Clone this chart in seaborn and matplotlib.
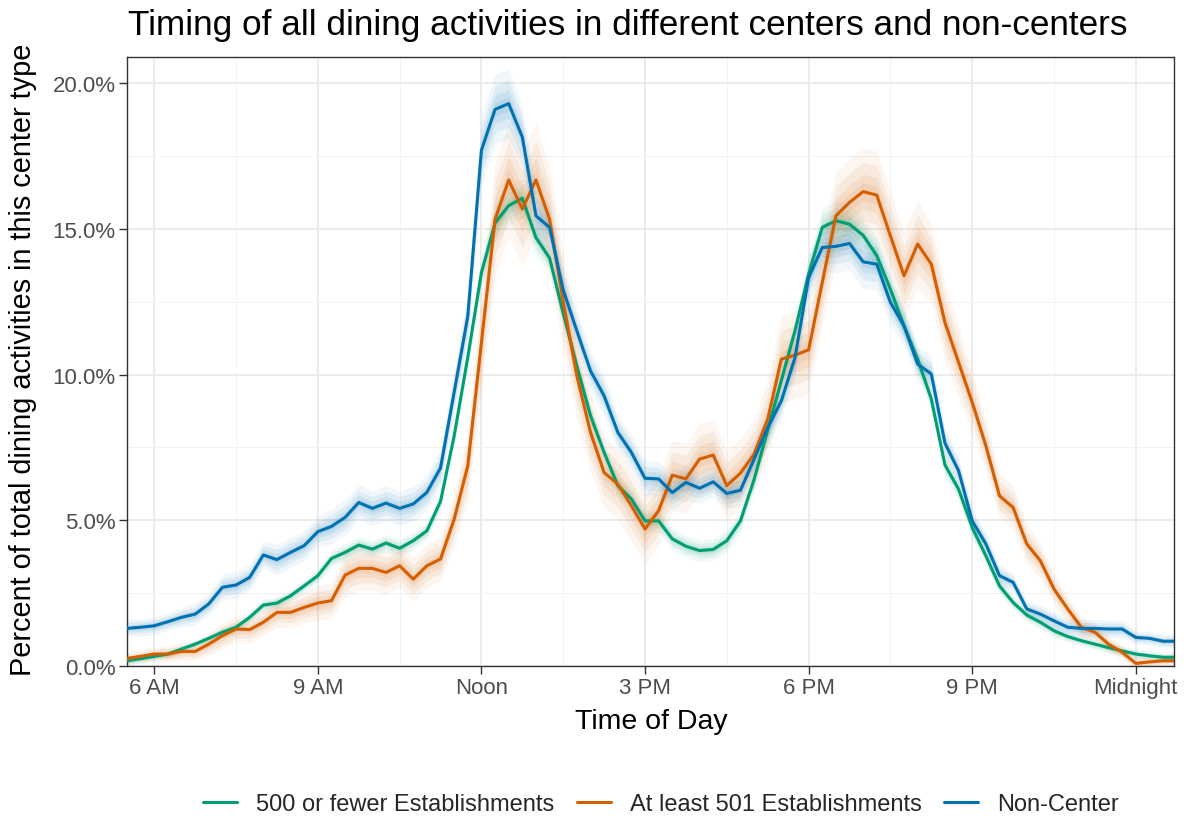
import numpy as np
import pandas as pd
import matplotlib
matplotlib.use("Agg")
import matplotlib.pyplot as plt
import seaborn as sns
from matplotlib.lines import Line2D
from matplotlib.ticker import FixedLocator, FuncFormatter

# Time of day in hours, 15-minute steps from 5:30 AM to 12:45 AM
times = np.arange(5.5, 24.76, 0.25)

groups = ["500 or fewer Establishments", "At least 501 Establishments", "Non-Center"]
colors = ["#009E73", "#D55E00", "#0072B2"]

# Percent of all dining activities in each 15-minute slot
small_center = [
    0.18, 0.25, 0.33, 0.41, 0.58, 0.75, 0.95, 1.16, 1.33, 1.67, 2.09, 2.16, 2.41, 2.75,
    3.10, 3.69, 3.90, 4.15, 4.01, 4.22, 4.04, 4.30, 4.64, 5.65, 7.90, 10.60, 13.50, 15.20,
    15.80, 16.05, 14.70, 14.00, 12.10, 10.30, 8.59, 7.33, 6.19, 5.73, 4.98, 4.98, 4.36, 4.11,
    3.96, 4.00, 4.30, 4.98, 6.40, 8.10, 9.80, 11.50, 13.45, 15.05, 15.28, 15.16, 14.78, 14.08,
    12.93, 11.67, 10.53, 9.16, 6.90, 6.07, 4.75, 3.78, 2.75, 2.18, 1.75, 1.50, 1.21, 1.01,
    0.87, 0.75, 0.63, 0.52, 0.41, 0.35, 0.30, 0.30,
]
large_center = [
    0.26, 0.33, 0.41, 0.41, 0.50, 0.50, 0.75, 1.04, 1.27, 1.25, 1.50, 1.84, 1.84, 2.01,
    2.16, 2.24, 3.12, 3.35, 3.35, 3.21, 3.44, 2.98, 3.44, 3.67, 5.04, 6.87, 11.10, 15.33,
    16.68, 15.68, 16.68, 15.33, 12.50, 9.96, 8.02, 6.64, 6.24, 5.50, 4.70, 5.33, 6.55, 6.42,
    7.10, 7.24, 6.19, 6.62, 7.27, 8.47, 10.53, 10.67, 10.85, 13.16, 15.45, 15.91, 16.28, 16.16,
    14.76, 13.39, 14.48, 13.79, 11.79, 10.42, 9.05, 7.56, 5.84, 5.44, 4.19, 3.61, 2.64, 1.96,
    1.33, 1.16, 0.75, 0.47, 0.09, 0.14, 0.18, 0.18,
]
non_center = [
    1.29, 1.33, 1.38, 1.52, 1.67, 1.78, 2.13, 2.70, 2.78, 3.04, 3.81, 3.65, 3.90, 4.13,
    4.61, 4.79, 5.10, 5.61, 5.41, 5.59, 5.41, 5.56, 5.96, 6.80, 9.40, 12.00, 17.70, 19.10,
    19.30, 18.15, 15.45, 15.05, 12.90, 11.50, 10.13, 9.27, 8.02, 7.33, 6.44, 6.42, 5.95, 6.30,
    6.10, 6.32, 5.92, 6.03, 7.10, 8.18, 9.10, 10.58, 13.33, 14.36, 14.40, 14.50, 13.87, 13.79,
    12.48, 11.67, 10.36, 10.02, 7.65, 6.70, 4.98, 4.19, 3.10, 2.87, 1.96, 1.78, 1.55, 1.33,
    1.29, 1.29, 1.27, 1.27, 0.98, 0.95, 0.85, 0.85,
]

# Half-width of the spread across bootstrap resamples, in percentage points
small_spread = [
    0.10, 0.10, 0.10, 0.10, 0.10, 0.10, 0.10,
    0.12, 0.12, 0.12, 0.15, 0.15, 0.15, 0.15, 0.15,
    0.20, 0.20, 0.20, 0.20, 0.20, 0.20, 0.20, 0.20, 0.20,
    0.25, 0.30, 0.40, 0.45, 0.45, 0.45, 0.40, 0.35, 0.30,
    0.25, 0.25, 0.25, 0.25, 0.25, 0.25, 0.25, 0.25, 0.25,
    0.25, 0.25, 0.25, 0.25, 0.30, 0.30, 0.35, 0.35, 0.40,
    0.45, 0.45, 0.45, 0.40, 0.40, 0.35, 0.35, 0.30, 0.30,
    0.30, 0.25, 0.25, 0.20, 0.20, 0.15, 0.15, 0.15, 0.15,
    0.12, 0.12, 0.12, 0.12, 0.12, 0.12, 0.12, 0.12, 0.12,
]
large_spread = [
    0.15, 0.15, 0.15, 0.20, 0.20, 0.20, 0.25,
    0.30, 0.30, 0.30, 0.30, 0.35, 0.35, 0.35, 0.40,
    0.40, 0.50, 0.50, 0.50, 0.50, 0.50, 0.50, 0.50, 0.50,
    0.60, 0.80, 1.20, 1.30, 1.30, 1.30, 1.30, 1.20, 1.10,
    1.00, 0.90, 0.80, 0.80, 0.80, 0.80, 0.80, 0.80, 0.80,
    0.80, 0.80, 0.80, 0.80, 0.80, 0.90, 1.00, 1.00, 1.00,
    1.00, 1.00, 1.00, 1.00, 1.00, 1.00, 1.00, 1.00, 0.90,
    0.90, 0.80, 0.70, 0.60, 0.50, 0.50, 0.45, 0.40, 0.35,
    0.30, 0.25, 0.20, 0.20, 0.15, 0.15, 0.12, 0.12, 0.12,
]
non_spread = [
    0.20, 0.20, 0.20, 0.20, 0.22, 0.25, 0.25,
    0.30, 0.30, 0.30, 0.30, 0.35, 0.35, 0.35, 0.35,
    0.40, 0.40, 0.40, 0.40, 0.40, 0.40, 0.40, 0.40, 0.45,
    0.50, 0.60, 0.80, 0.80, 0.80, 0.70, 0.60, 0.50, 0.50,
    0.45, 0.45, 0.45, 0.40, 0.40, 0.40, 0.40, 0.40, 0.40,
    0.35, 0.35, 0.35, 0.35, 0.35, 0.40, 0.40, 0.45, 0.50,
    0.55, 0.60, 0.60, 0.60, 0.60, 0.50, 0.45, 0.40, 0.40,
    0.35, 0.30, 0.30, 0.25, 0.25, 0.20, 0.20, 0.20, 0.20,
    0.20, 0.20, 0.20, 0.20, 0.20, 0.15, 0.15, 0.15, 0.15,
]

tick_hours = [6, 9, 12, 15, 18, 21, 24]
tick_labels = ["6 AM", "9 AM", "Noon", "3 PM", "6 PM", "9 PM", "Midnight"]

series = [small_center, large_center, non_center]
spreads = [small_spread, large_spread, non_spread]

df = pd.concat(
    [pd.DataFrame({"time": times, "pct": vals, "spread": spr, "center": name})
     for name, vals, spr in zip(groups, series, spreads)],
    ignore_index=True,
)

sns.set_theme(style="white")
plt.rcParams["font.family"] = ["Liberation Sans", "DejaVu Sans"]

fig = plt.figure(figsize=(11.91, 8.20), dpi=100)
ax = fig.add_axes([0.1066, 0.1866, 0.8791, 0.7427])

# Bootstrap spread, drawn as layered translucent bands (soft outer edge)
for name, col in zip(groups, colors):
    sub = df[df["center"] == name]
    for k, a in [(1.5, 0.06), (1.0, 0.08), (0.6, 0.09), (0.3, 0.09)]:
        ax.fill_between(sub["time"], sub["pct"] - k * sub["spread"],
                        sub["pct"] + k * sub["spread"],
                        color=col, alpha=a, linewidth=0, zorder=2)

sns.lineplot(data=df, x="time", y="pct", hue="center", hue_order=groups,
             palette=colors, linewidth=2.2, estimator=None, sort=False,
             legend=False, ax=ax, zorder=3)

ax.set_xlim(5.5, 24.7)
ax.set_ylim(0, 20.9)

ax.xaxis.set_major_locator(FixedLocator(tick_hours))
ax.set_xticklabels(tick_labels)
ax.xaxis.set_minor_locator(FixedLocator([7.5, 10.5, 13.5, 16.5, 19.5, 22.5]))
ax.yaxis.set_major_locator(FixedLocator([0, 5, 10, 15, 20]))
ax.yaxis.set_minor_locator(FixedLocator([2.5, 7.5, 12.5, 17.5]))
ax.yaxis.set_major_formatter(FuncFormatter(lambda v, p: f"{v:.1f}%"))

ax.grid(which="major", color="#EBEBEB", linewidth=1.3, zorder=0)
ax.grid(which="minor", color="#F2F2F2", linewidth=0.7, zorder=0)
ax.set_axisbelow(True)
for s in ax.spines.values():
    s.set_color("#333333")
    s.set_linewidth(1.0)
ax.tick_params(which="major", length=5.5, width=1.0, color="#333333",
               labelcolor="#4D4D4D", labelsize=16, bottom=True, left=True, pad=2.5)
ax.tick_params(which="minor", length=0)

ax.set_xlabel("")
ax.set_ylabel("")
fig.text(0.5465, 1 - 722 / 820, "Time of Day", fontsize=20.5, color="black",
         ha="center", va="center")
fig.text(23 / 1191, 1 - 360 / 820,
         "Percent of total dining activities in this center type",
         fontsize=20.8, color="black", ha="center", va="center", rotation=90)
fig.text(0.1075, 1 - 35 / 820,
         "Timing of all dining activities in different centers and non-centers",
         fontsize=25.3, color="black", ha="left", va="baseline")

handles = [Line2D([0], [0], color=c, lw=2.2) for c in colors]
fig.legend(handles, groups, loc="center", bbox_to_anchor=(0.555, 0.018), ncol=3,
           frameon=False, fontsize=17, handlelength=1.45, columnspacing=0.95,
           handletextpad=0.8)

fig.savefig("out.png", dpi=100)
